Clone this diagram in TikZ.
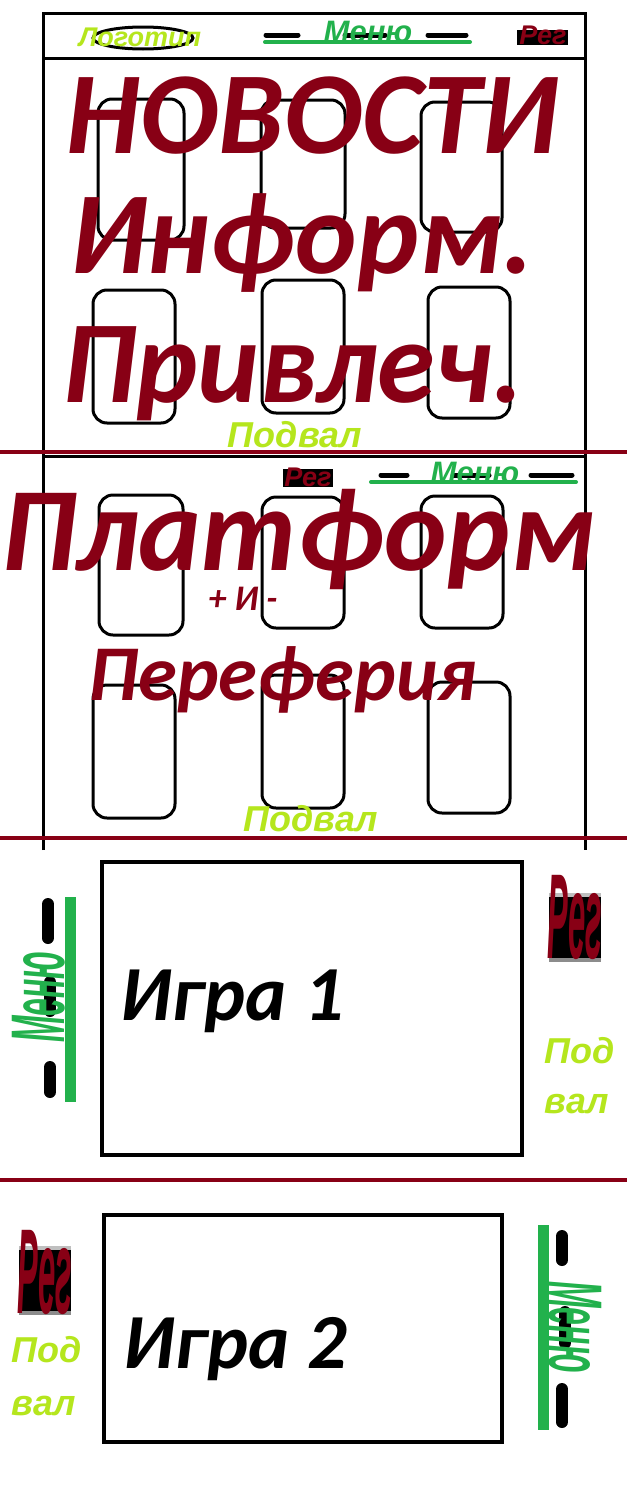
\documentclass[tikz,border=0pt]{standalone}
\usepackage{fontspec}
\usepackage{graphicx}
\setmainfont{Carlito}
\newfontfamily\calib{Carlito}
\newfontfamily\arialf{Liberation Sans}
\definecolor{dred}{HTML}{880015}
\definecolor{ygreen}{HTML}{B5E61D}
\definecolor{mgreen}{HTML}{22B14C}
\newcommand{\fsz}[1]{\fontsize{#1}{#1}\selectfont}
\tikzset{
  card/.style={draw=black, line width=3pt, rounded corners=14pt},
  frameline/.style={draw=black, line width=3pt},
  sepline/.style={draw=dred, line width=4.5pt},
  gamebox/.style={draw=black, line width=4pt},
  dashbar/.style={draw=black, line width=5pt, line cap=round},
  vdashbar/.style={draw=black, line width=12pt, line cap=round},
  greenbar/.style={draw=mgreen, line width=4pt, line cap=round},
  vgreenbar/.style={draw=mgreen, line width=11pt},
  bigtxt/.style={text=dred, inner sep=0pt, anchor=base, font=\calib\bfseries\itshape\fsz{117}},
  gametxt/.style={text=black, inner sep=0pt, anchor=base, font=\calib\bfseries\itshape\fsz{78}},
  podval/.style={text=ygreen, inner sep=0pt, anchor=base, font=\arialf\bfseries\itshape\fsz{36}},
  menutxt/.style={text=mgreen, inner sep=0pt, anchor=base, font=\arialf\bfseries\itshape\fsz{31}},
  regtxt/.style={text=dred, inner sep=0pt, anchor=base, font=\arialf\bfseries\itshape\fsz{27}},
}
\begin{document}
\begin{tikzpicture}[x=1pt,y=-1pt]
\useasboundingbox (0,0) rectangle (627,1502);
\fill[white] (0,0) rectangle (627,1502);

% ===== Section 1 =====
\draw[frameline] (43,850) -- (43,13) -- (585,13) -- (585,850);
\draw[frameline] (43,58) -- (585,58);
% logo
\draw[black, line width=3pt] (143,38) ellipse [x radius=50, y radius=11];
\node[text=ygreen, inner sep=0pt, anchor=base, font=\arialf\bfseries\itshape\fsz{27}] (logo) at (140,46) {Логотип};
% menu 1
\draw[dashbar] (266,35) -- (298,35);
\draw[dashbar] (345,35) -- (385,35);
\draw[dashbar] (428,35) -- (466,35);
\draw[greenbar] (265,42) -- (470,42);
\node[menutxt] (menu1) at (368,42) {Меню};
% reg 1
\fill[black] (517,30) rectangle (568,45);
\node[regtxt] (reg1) at (543,44) {Рег};
% cards 1
\draw[card] (98,99) rectangle (184,240);
\draw[card] (261,100) rectangle (345,228);
\draw[card] (421,102) rectangle (502,232);
\draw[card] (93,290) rectangle (175,423);
\draw[card] (262,280) rectangle (344,413);
\draw[card] (428,287) rectangle (510,418);
\node[bigtxt] (news) at (312,153) {НОВОСТИ};
\node[bigtxt] (inform) at (302,273) {Информ.};
\node[bigtxt] (privl) at (293,402) {Привлеч.};
\node[podval] (pod1) at (295,447) {Подвал};

% ===== Section 2 =====
\draw[frameline] (43,456) -- (585,456);
\fill[black] (283,469) rectangle (333,487);
\node[regtxt] (reg2) at (308,486) {Рег};
\draw[dashbar] (381,475) -- (407,475);
\draw[dashbar] (453,475) -- (489,475);
\draw[dashbar] (531,475) -- (572,475);
\draw[greenbar] (371,482) -- (576,482);
\node[menutxt] (menu2) at (475,483) {Меню};
\draw[card] (99,495) rectangle (183,635);
\draw[card] (262,497) rectangle (344,628);
\draw[card] (421,496) rectangle (503,628);
\draw[card] (93,685) rectangle (175,818);
\draw[card] (262,675) rectangle (344,808);
\draw[card] (428,682) rectangle (510,813);
\node[bigtxt, font=\calib\bfseries\itshape\fsz{119}] (platf) at (298,570) {Платформ};
\node[bigtxt, font=\calib\bfseries\itshape\fsz{36}] (pm) at (243,610) {+ И -};
\node[bigtxt, font=\calib\bfseries\itshape\fsz{79}] (peref) at (283,700) {Переферия};
\node[podval] (pod2) at (311,831) {Подвал};

% separators
\draw[sepline] (0,452) -- (627,452);
\draw[sepline] (0,838) -- (627,838);
\draw[sepline] (0,1180) -- (627,1180);

% ===== Section 3: game 1 =====
\draw[gamebox] (102,862) rectangle (522,1155);
\node[gametxt] (game1) at (232,1020) {Игра 1};
% vertical menu left
\draw[vdashbar] (48,904) -- (48,938);
\draw[vdashbar] (50,982) -- (50,1011);
\draw[vdashbar] (50,1067) -- (50,1092);
\draw[vgreenbar] (70,897) -- (70,1102);
\node[text=mgreen, inner sep=0pt, anchor=base, rotate=90, font=\arialf\bfseries\itshape\fsz{76}] (vmenu1) at (64,997) {\scalebox{0.42}[1]{Меню}};
% reg vertical right
\fill[black] (549,893) rectangle (601,962);
\fill[black!25] (549,893) rectangle (601,897);
\fill[black!45] (549,958) rectangle (601,962);
\node[text=dred, inner sep=0pt, anchor=base, font=\arialf\bfseries\itshape\fsz{31}] (vreg1) at (575,958) {\scalebox{1}[3.9]{Рег}};
\node[podval] (pod3a) at (580,1063) {Под};
\node[podval] (pod3b) at (577,1113) {вал};

% ===== Section 4: game 2 =====
\draw[gamebox] (104,1215) rectangle (502,1442);
\node[gametxt] (game2) at (235,1368) {Игра 2};
% reg vertical left
\fill[black] (19,1246) rectangle (71,1315);
\fill[black!25] (19,1246) rectangle (71,1250);
\fill[black!45] (19,1311) rectangle (71,1315);
\node[text=dred, inner sep=0pt, anchor=base, font=\arialf\bfseries\itshape\fsz{31}] (vreg2) at (45,1313) {\scalebox{1}[3.9]{Рег}};
\node[podval] (pod4a) at (47,1362) {Под};
\node[podval] (pod4b) at (44,1415) {вал};
% vertical menu right
\draw[vdashbar] (562,1236) -- (562,1260);
\draw[vdashbar] (565,1312) -- (565,1343);
\draw[vdashbar] (562,1389) -- (562,1422);
\draw[vgreenbar] (543,1225) -- (543,1430);
\node[text=mgreen, inner sep=0pt, anchor=base, rotate=-90, font=\arialf\bfseries\itshape\fsz{76}] (vmenu2) at (549,1327) {\scalebox{0.42}[1]{Меню}};
\end{tikzpicture}
\end{document}
